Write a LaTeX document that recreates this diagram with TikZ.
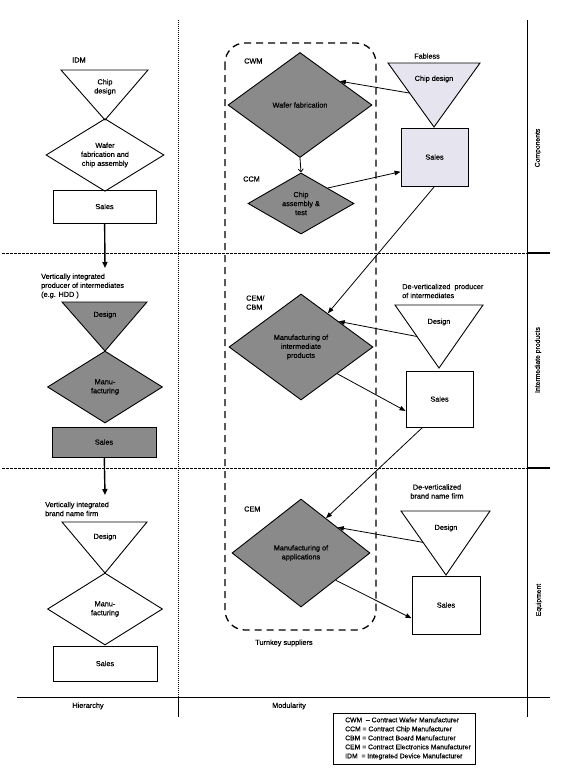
\documentclass[tikz,border=0pt]{standalone}
\usepackage{fontspec}
\setmainfont{Liberation Sans}[FakeBold=0.5]
\usetikzlibrary{shapes.geometric,arrows.meta,calc}
\definecolor{shade}{HTML}{8A8A8A}
\definecolor{lav}{HTML}{E6E4EE}
\begin{document}
\begin{tikzpicture}[x=1pt,y=-1pt,
  font=\fontsize{7.3}{9}\selectfont,
  dia/.style={diamond, draw, line width=0.9pt, inner sep=0pt, align=center},
  box/.style={rectangle, draw, line width=0.9pt, inner sep=0pt, align=center},
  txt/.style={inner sep=0pt, align=center},
  tri/.style={draw, line width=0.9pt, line join=miter},
  link/.style={-{Triangle[length=6pt,width=4.5pt]}, line width=0.8pt},
  downarrow/.style={-{Triangle[length=6pt,width=5pt]}, line width=1.4pt},
  gridline/.style={dash pattern=on 2.5pt off 1.5pt, line width=0.7pt},
  dotline/.style={dash pattern=on 1pt off 1pt, line width=0.7pt},
  rule/.style={line width=0.8pt},
  container/.style={dash pattern=on 7pt off 5pt, line width=1.3pt, rounded corners=20pt},
  side/.style={rotate=90, inner sep=0pt, font=\fontsize{6.8}{8}\selectfont}
]
\useasboundingbox (0,0) rectangle (560,777);

% ---------- frame ----------
\coordinate (gA1) at (2,253);   \coordinate (gA2) at (527,253);  \coordinate (gA3) at (550,253);
\coordinate (gB1) at (2,468);   \coordinate (gB2) at (527,468);  \coordinate (gB3) at (550,468);
\coordinate (vL1) at (178,20);  \coordinate (vL2) at (178,697);  \coordinate (vL3) at (178,717);
\coordinate (vR1) at (527,20);  \coordinate (vR2) at (527,717);
\coordinate (hB1) at (17,697);  \coordinate (hB2) at (550,697);
\draw[gridline] (gA1) -- (gA2);
\draw[line width=1.2pt] (gA2) -- (gA3);
\draw[gridline] (gB1) -- (gB2);
\draw[line width=1.2pt] (gB2) -- (gB3);
\draw[dotline] (vL1) -- (vL2);
\draw[rule] (vL2) -- (vL3);
\draw[rule] (vR1) -- (vR2);
\draw[rule] (hB1) -- (hB2);

\node[inner sep=0pt] (hier) at (88,706) {Hierarchy};
\node[inner sep=0pt] (modu) at (289,706) {Modularity};
\node[side] (lcomp) at (538,148) {Components};
\node[side] (linter) at (538,360) {Intermediate products};
\node[side] (lequip) at (539,600) {Equipment};

% ---------- turnkey container ----------
\draw[container] (225,43) rectangle (376,630);
\node[txt] (turnkey) at (284,643) {Turnkey suppliers};

% ---------- left column: IDM ----------
\node[txt] (idmlab) at (79,60) {IDM};
\node[dia, minimum width=118pt, minimum height=70pt] (idmD) at (105,155) {Wafer\\fabrication and\\chip assembly};
\coordinate (idmTL) at (61,70); \coordinate (idmTR) at (148,70); \coordinate (idmTA) at (105,120);
\draw[tri] (idmTL) -- (idmTR) -- (idmTA) -- cycle;
\node[txt] (idmTt) at (105,87) {Chip\\design};
\node[box, minimum width=103pt, minimum height=33pt] (idmS) at (104.5,206.5) {Sales};
\coordinate (idmEnd) at (105,268);
\draw[downarrow] (idmS) -- (idmEnd);

% ---------- left column: vertically integrated producer ----------
\node[txt, align=left, anchor=west] (vilab) at (41,286) {Vertically integrated\\producer of intermediates\\(e.g. HDD )};
\node[dia, fill=shade, minimum width=115pt, minimum height=72pt] (viD) at (105,387) {Manu-\\facturing};
\coordinate (viTL) at (62,302); \coordinate (viTR) at (147,302); \coordinate (viTA) at (105,351);
\draw[tri, fill=shade] (viTL) -- (viTR) -- (viTA) -- cycle;
\node[txt] (viTt) at (105,315) {Design};
\node[box, fill=shade, minimum width=104pt, minimum height=30pt] (viS) at (104,442) {Sales};
\coordinate (viEnd) at (105,495);
\draw[downarrow] (viS) -- (viEnd);

% ---------- left column: vertically integrated brand name firm ----------
\node[txt, align=left, anchor=west] (vblab) at (45,509) {Vertically integrated\\brand name firm};
\node[dia, minimum width=115pt, minimum height=72pt] (vbD) at (105,609) {Manu-\\facturing};
\coordinate (vbTL) at (62,522); \coordinate (vbTR) at (147,522); \coordinate (vbTA) at (105,573);
\draw[tri] (vbTL) -- (vbTR) -- (vbTA) -- cycle;
\node[txt] (vbTt) at (105,537) {Design};
\node[box, minimum width=104pt, minimum height=35pt] (vbS) at (105,663.5) {Sales};

% ---------- middle column ----------
\node[txt, anchor=west] (cwmlab) at (244,61) {CWM};
\node[dia, fill=shade, minimum width=144pt, minimum height=105pt] (wf) at (300,105) {Wafer fabrication};
\node[txt, anchor=west] (ccmlab) at (243,179) {CCM};
\node[dia, fill=shade, minimum width=106pt, minimum height=57pt] (ca) at (301,203.5) {Chip\\assembly \&\\test};
\draw[-{Straight Barb[length=3pt,width=5pt]}, line width=0.8pt] (wf.south) -- (ca.north);

\node[txt, align=left, anchor=west] (cemcbm) at (246,302.5) {CEM/\\CBM};
\node[dia, fill=shade, minimum width=144pt, minimum height=106pt] (mi) at (301,347) {Manufacturing of\\intermediate\\products};

\node[txt, anchor=west] (cemlab) at (244,509) {CEM};
\node[dia, fill=shade, minimum width=138pt, minimum height=108pt] (ma) at (301,553) {Manufacturing of\\applications};

% ---------- right column: fabless ----------
\node[txt] (fablab) at (427,56) {Fabless};
\coordinate (fabTL) at (388,63); \coordinate (fabTR) at (480,63); \coordinate (fabTA) at (434,127);
\draw[tri, fill=lav] (fabTL) -- (fabTR) -- (fabTA) -- cycle;
\node[txt] (fabTt) at (434,79) {Chip design};
\node[box, fill=lav, minimum width=67pt, minimum height=58pt] (fs) at (434.5,157) {Sales};

% ---------- right column: de-verticalized producer ----------
\node[txt, align=left, anchor=west] (rilab) at (402,291) {De-verticalized\ \ producer\\of intermediates};
\coordinate (riTL) at (395,305); \coordinate (riTR) at (483,305); \coordinate (riTA) at (439,368);
\draw[tri] (riTL) -- (riTR) -- (riTA) -- cycle;
\node[txt] (riTt) at (439,322) {Design};
\node[box, minimum width=67pt, minimum height=56pt] (ri) at (439.5,399) {Sales};

% ---------- right column: de-verticalized brand name firm ----------
\node[txt] (relab) at (437,491.5) {De-verticalized\\brand name firm};
\coordinate (reTL) at (401,511); \coordinate (reTR) at (490,511); \coordinate (reTA) at (446,575);
\draw[tri] (reTL) -- (reTR) -- (reTA) -- cycle;
\node[txt] (reTt) at (446,528) {Design};
\node[box, minimum width=68pt, minimum height=58pt] (re) at (446,605) {Sales};

% ---------- connectors ----------
\coordinate (fabEdge) at ($(fabTL)!0.47!(fabTA)$);
\draw[link] (fabEdge) -- ($(wf.north)!0.55!(wf.east)$);
\draw[link] ($(ca.north)!0.5!(ca.east)$) -- ($(fs.west)!0.5!(fs.south west)$);
\draw[link] (fs.south) -- ($(mi.north)!0.37!(mi.east)$);

\coordinate (riEdge) at ($(riTL)!0.5!(riTA)$);
\draw[link] (riEdge) -- ($(mi.north)!0.52!(mi.east)$);
\draw[link] ($(mi.south)!0.5!(mi.east)$) -- ($(ri.west)!0.42!(ri.south west)$);
\draw[link] ($(ri.south west)!0.25!(ri.south east)$) -- ($(ma.north)!0.36!(ma.east)$);

\coordinate (reEdge) at ($(reTL)!0.49!(reTA)$);
\draw[link] (reEdge) -- ($(ma.north)!0.53!(ma.east)$);
\draw[link] ($(ma.south)!0.5!(ma.east)$) -- ($(re.west)!0.45!(re.south west)$);

% ---------- legend ----------
\node[draw, line width=0.7pt, minimum width=142pt, minimum height=51pt, inner sep=0pt] (legbox) at (404,738.5) {};
\node[inner sep=0pt, align=left, anchor=west, font=\fontsize{6.8}{9}\selectfont] (legtext) at (345,738.5)
  {CWM\ \ -- Contract Wafer\ Manufacturer\\CCM = Contract Chip Manufacturer\\CBM = Contract Board Manufacturer\\CEM = Contract Electronics Manufacturer\\IDM\ \ = Integrated Device Manufacturer};
\end{tikzpicture}
\end{document}
